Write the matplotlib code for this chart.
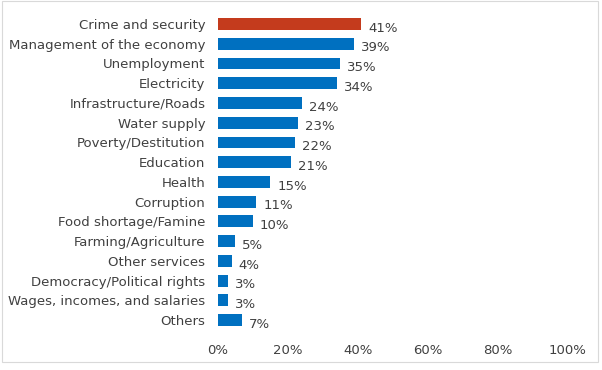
import matplotlib.pyplot as plt
from matplotlib.patches import Rectangle

categories = ["Crime and security", "Management of the economy", "Unemployment",
              "Electricity", "Infrastructure/Roads", "Water supply",
              "Poverty/Destitution", "Education", "Health", "Corruption",
              "Food shortage/Famine", "Farming/Agriculture", "Other services",
              "Democracy/Political rights", "Wages, incomes, and salaries", "Others"]
values = [41, 39, 35, 34, 24, 23, 22, 21, 15, 11, 10, 5, 4, 3, 3, 7]
ticks = [0, 20, 40, 60, 80, 100]

plt.rcParams['font.family'] = ['DejaVu Sans']
fs = 9.5
fig = plt.figure(figsize=(6.02, 3.70), dpi=100)
ax = fig.add_axes([0.362, 0.108, 0.581, 0.854])

colors = ['#C43B1D'] + ['#0070C0'] * (len(values) - 1)
y = list(range(len(values)))
ax.barh(y, values, height=0.6, color=colors)
for yi, v in zip(y, values):
    ax.annotate(f"{v}%", (v, yi), xytext=(5, -3), textcoords='offset points',
                ha='left', va='center', fontsize=fs, color='#404040')

ax.set_yticks(y)
ax.set_yticklabels(categories, fontsize=fs, color='#404040')
ax.set_ylim(len(values) - 0.5, -0.5)
ax.set_xlim(0, 100)
ax.set_xticks(ticks)
ax.set_xticklabels([f"{t}%" for t in ticks], fontsize=fs, color='#404040')
ax.tick_params(length=0)
ax.tick_params(axis='y', pad=9)
ax.tick_params(axis='x', pad=10)
for s in ax.spines.values():
    s.set_visible(False)

fig.patches.append(Rectangle((0.003, 0.022), 0.99, 0.975, transform=fig.transFigure,
                             fill=False, edgecolor='#D9D9D9', linewidth=0.8))
fig.savefig('out.png', dpi=100)
